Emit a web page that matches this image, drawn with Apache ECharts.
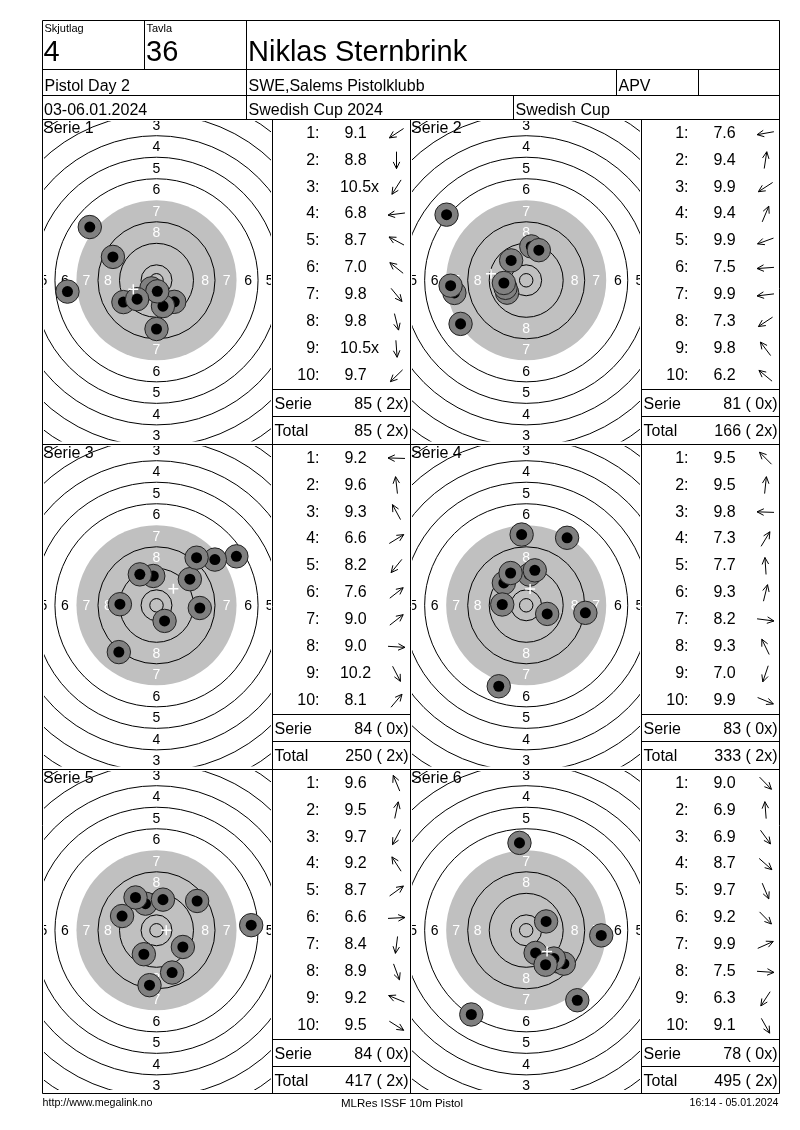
<!DOCTYPE html>
<html>
<head>
<meta charset="utf-8">
<script src="https://cdn.jsdelivr.net/npm/echarts@6/dist/echarts.min.js"></script>
<style>
html,body{margin:0;padding:0;background:#fff;}
#chart{width:800px;height:1130px;}
</style>
</head>
<body>
<div id="chart"></div>
<script>
// ---------------- DATA ----------------
const squadLabel = 'Skjutlag';
const squadNo = '4';
const laneLabel = 'Tavla';
const laneNo = '36';
const shooterName = 'Niklas Sternbrink';
const eventName = 'Pistol Day 2';
const clubName = 'SWE,Salems Pistolklubb';
const className = 'APV';
const dateText = '03-06.01.2024';
const competition = 'Swedish Cup 2024';
const cupName = 'Swedish Cup';
const footerLeft = 'http://www.megalink.no';
const footerMid = 'MLRes ISSF 10m Pistol';
const footerRight = '16:14 - 05.01.2024';

const serieNames = ['Serie 1', 'Serie 2', 'Serie 3', 'Serie 4', 'Serie 5', 'Serie 6'];

// shot scores per series ('x' = inner ten)
const scores1 = ['9.1', '8.8', '10.5x', '6.8', '8.7', '7.0', '9.8', '9.8', '10.5x', '9.7'];
const scores2 = ['7.6', '9.4', '9.9', '9.4', '9.9', '7.5', '9.9', '7.3', '9.8', '6.2'];
const scores3 = ['9.2', '9.6', '9.3', '6.6', '8.2', '7.6', '9.0', '9.0', '10.2', '8.1'];
const scores4 = ['9.5', '9.5', '9.8', '7.3', '7.7', '9.3', '8.2', '9.3', '7.0', '9.9'];
const scores5 = ['9.6', '9.5', '9.7', '9.2', '8.7', '6.6', '8.4', '8.9', '9.2', '9.5'];
const scores6 = ['9.0', '6.9', '6.9', '8.7', '9.7', '9.2', '9.9', '7.5', '6.3', '9.1'];

const serieSums = [85, 81, 84, 83, 84, 78];
const serieInner = [2, 0, 0, 0, 0, 0];
const totalSums = [85, 166, 250, 333, 417, 495];
const totalInner = [2, 2, 2, 2, 2, 2];

// shot positions in mm from target centre (x right, y up), in shot order
const shots1 = [[-12.3, -8.1], [0, -18.1], [-1.9, -3.0], [-33.1, -4.2], [-16.2, 8.7], [-24.8, 19.8], [6.6, -8.0], [2.4, -9.6], [0.3, -4.1], [-7.2, -7.0]];
const shots2 = [[-26.7, -4.7], [1.9, 12.6], [-7.1, -4.6], [4.7, 11.2], [-7.7, -2.8], [-28.1, -2.0], [-8.3, -1.0], [-24.4, -16.2], [-5.6, 7.4], [-29.6, 24.4]];
const shots3 = [[-13.6, 0.4], [-1.2, 10.9], [-6.2, 11.5], [29.7, 18.2], [-14.0, -17.4], [21.7, 17.0], [12.4, 9.7], [16.1, -1.0], [3.0, -5.8], [14.9, 17.7]];
const shots4 = [[-8.3, 8.3], [1.2, 11.4], [-8.9, 0.3], [15.2, 25.1], [-1.7, 26.3], [3.2, 13.0], [22.0, -2.8], [-5.8, 12.0], [-10.2, -30.1], [7.8, -3.2]];
const shots5 = [[-4.1, 9.9], [2.4, 11.4], [-4.7, -8.9], [-7.8, 12.2], [15.1, 10.9], [35.2, 1.9], [-2.6, -20.4], [5.8, -15.7], [-12.8, 5.3], [9.8, -6.2]];
const shots6 = [[11.2, -11.5], [-2.5, 32.5], [19.0, -26.0], [14.0, -12.4], [3.5, -8.4], [10.3, -10.5], [7.4, 3.3], [27.9, -1.9], [-20.4, -31.3], [7.2, -12.8]];

// ISSF 10m air pistol target geometry (mm): radius of ring 1..10, inner ten
const ringRadiusMm = [77.75, 69.75, 61.75, 53.75, 45.75, 37.75, 29.75, 21.75, 13.75, 5.75];
const innerTenMm = 2.5;
const ringLabels = [1, 2, 3, 4, 5, 6, 7, 8];
const shotRadiusMm = 4.35;
const shotCoreMm = 2.05;

// ---------------- LAYOUT ----------------
const S = 2.69; // px per mm
const FONT = '"Liberation Sans", Arial, Helvetica, sans-serif';
const panelLefts = [42.5, 410.5];
const panelRights = [272.5, 641.5];
const centersX = [156.5, 526.2];
const rowTops = [120, 445, 770];
const rowBottoms = [445, 770, 1093.5];
const centerOffY = 160.3;
const scoreLefts = [272.5, 641.5];
const scoreRights = [410.5, 779.5];

const allScores = [scores1, scores2, scores3, scores4, scores5, scores6];
const allShots = [shots1, shots2, shots3, shots4, shots5, shots6];

function txt(x, y, text, size, align, extra) {
  return Object.assign({
    type: 'text', x: x, y: y, z: 5, silent: true,
    style: {
      text: text, font: size + 'px ' + FONT, fill: '#000',
      textAlign: align || 'left', align: align || 'left',
      textVerticalAlign: 'middle', verticalAlign: 'middle'
    }
  }, extra || {});
}
function line(x1, y1, x2, y2) {
  return { type: 'line', z: 20, silent: true, shape: { x1: x1, y1: y1, x2: x2, y2: y2 }, style: { stroke: '#000', lineWidth: 1 } };
}

function ringRender(params, api) {
  const c = api.coord([0, 0]);
  const px = v => api.size([v, 0])[0];
  const ch = [];
  ch.push({ type: 'circle', shape: { cx: c[0], cy: c[1], r: px(ringRadiusMm[6]) }, style: { fill: '#c0c0c0', stroke: 'none' } });
  ringRadiusMm.forEach((r, i) => {
    if (i === 6) return;
    ch.push({ type: 'circle', shape: { cx: c[0], cy: c[1], r: px(r) }, style: { fill: 'none', stroke: '#000', lineWidth: 1 } });
  });
  ch.push({ type: 'circle', shape: { cx: c[0], cy: c[1], r: px(innerTenMm) }, style: { fill: 'none', stroke: '#000', lineWidth: 1 } });
  ringLabels.forEach(n => {
    const rr = px(ringRadiusMm[n - 1] - 4);
    const col = n >= 7 ? '#ffffff' : '#000000';
    [[0, -1], [0, 1], [-1, 0], [1, 0]].forEach(d => {
      ch.push({
        type: 'text', x: c[0] + d[0] * (rr + (d[0] ? 0.8 : 0)), y: c[1] + d[1] * rr + 0.8,
        style: { text: String(n), fill: col, font: '14px ' + FONT, textAlign: 'center', align: 'center', textVerticalAlign: 'middle', verticalAlign: 'middle' }
      });
    });
  });
  return { type: 'group', children: ch };
}

function shotRender(params, api) {
  const p = api.coord([api.value(0), api.value(1)]);
  const ro = api.size([shotRadiusMm, 0])[0];
  const ri = api.size([shotCoreMm, 0])[0];
  return {
    type: 'group', children: [
      { type: 'circle', shape: { cx: p[0], cy: p[1], r: ro }, style: { fill: '#808080', stroke: '#222', lineWidth: 1 } },
      { type: 'circle', shape: { cx: p[0], cy: p[1], r: ri }, style: { fill: '#000', stroke: 'none' } }
    ]
  };
}

function plusRender(params, api) {
  const p = api.coord([api.value(0), api.value(1)]);
  const h = 5;
  return {
    type: 'group', children: [
      { type: 'line', shape: { x1: p[0] - h, y1: p[1], x2: p[0] + h, y2: p[1] }, style: { stroke: '#fff', lineWidth: 1.5 } },
      { type: 'line', shape: { x1: p[0], y1: p[1] - h, x2: p[0], y2: p[1] + h }, style: { stroke: '#fff', lineWidth: 1.5 } }
    ]
  };
}

const grids = [], xAxes = [], yAxes = [], series = [], graphics = [];

for (let k = 0; k < 6; k++) {
  const row = k >> 1, col = k & 1;
  const cx = centersX[col], top = rowTops[row], bottom = rowBottoms[row];
  const cy = top + centerOffY;
  // drawing area of the target (slightly inside the cell borders)
  const L = panelLefts[col] + 1.5, R = panelRights[col] - 1.5;
  const T = top + 1, B = bottom - 3.5;
  grids.push({ left: L, top: T, width: R - L, height: B - T, outerBoundsMode: 'none', containLabel: false });
  xAxes.push({ type: 'value', gridIndex: k, min: (L - cx) / S, max: (R - cx) / S, show: false });
  yAxes.push({ type: 'value', gridIndex: k, min: -(B - cy) / S, max: (cy - T) / S, show: false });
  const shots = allShots[k];
  const mean = [shots.reduce((a, s) => a + s[0], 0) / shots.length, shots.reduce((a, s) => a + s[1], 0) / shots.length];
  series.push({ type: 'custom', xAxisIndex: k, yAxisIndex: k, data: [[0, 0]], renderItem: ringRender, clip: true, z: 2, silent: true });
  series.push({ type: 'custom', xAxisIndex: k, yAxisIndex: k, data: shots, renderItem: shotRender, clip: true, z: 3, silent: true });
  series.push({ type: 'custom', xAxisIndex: k, yAxisIndex: k, data: [mean], renderItem: plusRender, clip: true, z: 4, silent: true });

  // serie label in panel
  graphics.push(txt(panelLefts[col] + 0.5, top + 8.8, serieNames[k], 16, 'left', { z: 0 }));

  // score column
  const SL = scoreLefts[col], SR = scoreRights[col];
  const sc = allScores[k];
  for (let i = 0; i < 10; i++) {
    const y = top + 13.2 + 26.95 * i;
    graphics.push(txt(SL + 47, y, (i + 1) + ':', 16, 'right'));
    const v = sc[i];
    const isX = v.endsWith('x');
    const num = isX ? v.slice(0, -1) : v;
    const t = txt(SL + 83, y, isX ? '{h|x}{n|' + num + '}{v|x}' : num, 16, 'center');
    if (isX) t.style.rich = { h: { fill: 'rgba(0,0,0,0)' }, n: { fill: '#000' }, v: { fill: '#000' } };
    graphics.push(t);
    // direction arrow from shot position
    const sx = shots[i][0], sy = shots[i][1];
    const ang = Math.atan2(sy, sx);
    const ux = Math.cos(ang), uy = -Math.sin(ang);
    const ax = SL + 124, ay = y;
    const Lh = 8.5, Hd = 7.5, sp = 0.45;
    const tip = [ax + ux * Lh, ay + uy * Lh], tail = [ax - ux * Lh, ay - uy * Lh];
    const h1 = [tip[0] - Hd * (ux * Math.cos(sp) - uy * Math.sin(sp)), tip[1] - Hd * (ux * Math.sin(sp) + uy * Math.cos(sp))];
    const h2 = [tip[0] - Hd * (ux * Math.cos(-sp) - uy * Math.sin(-sp)), tip[1] - Hd * (ux * Math.sin(-sp) + uy * Math.cos(-sp))];
    graphics.push({ type: 'polyline', z: 5, silent: true, shape: { points: [tail, tip] }, style: { stroke: '#000', lineWidth: 1, fill: 'none' } });
    graphics.push({ type: 'polyline', z: 5, silent: true, shape: { points: [h1, tip, h2] }, style: { stroke: '#000', lineWidth: 1, fill: 'none' } });
  }
  graphics.push(line(SL, top + 269.5, SR, top + 269.5));
  graphics.push(line(SL, top + 296.5, SR, top + 296.5));
  graphics.push(txt(SL + 2, top + 284.2, 'Serie', 16, 'left'));
  graphics.push(txt(SR - 2, top + 284.2, serieSums[k] + ' ( ' + serieInner[k] + 'x)', 16, 'right'));
  graphics.push(txt(SL + 2, top + 311.2, 'Total', 16, 'left'));
  graphics.push(txt(SR - 2, top + 311.2, totalSums[k] + ' ( ' + totalInner[k] + 'x)', 16, 'right'));
}

// header texts
graphics.push(txt(44.5, 29, squadLabel, 11, 'left'));
graphics.push(txt(146.5, 29, laneLabel, 11, 'left'));
graphics.push(txt(43.5, 53.3, squadNo, 29, 'left'));
graphics.push(txt(146, 53.3, laneNo, 29, 'left'));
graphics.push(txt(248, 53.3, shooterName, 29, 'left'));
graphics.push(txt(44.5, 86.5, eventName, 16, 'left'));
graphics.push(txt(248.5, 86.5, clubName, 16, 'left'));
graphics.push(txt(618.5, 86.5, className, 16, 'left'));
graphics.push(txt(44, 111, dateText, 16, 'left'));
graphics.push(txt(248.5, 111, competition, 16, 'left'));
graphics.push(txt(515.5, 111, cupName, 16, 'left'));
// footer
graphics.push(txt(42.5, 1103.5, footerLeft, 10.7, 'left'));
graphics.push(txt(402, 1103.5, footerMid, 11.5, 'center'));
graphics.push(txt(778.5, 1103.5, footerRight, 10.6, 'right'));

// table borders
const XL = 42.5, XR = 779.5, YT = 20.5, YB = 1093.5;
graphics.push(line(XL, YT, XR, YT));
graphics.push(line(XL, YB, XR, YB));
graphics.push(line(XL, YT, XL, YB));
graphics.push(line(XR, YT, XR, YB));
graphics.push(line(XL, 69.5, XR, 69.5));
graphics.push(line(XL, 95.5, XR, 95.5));
graphics.push(line(XL, 119.5, XR, 119.5));
graphics.push(line(144.5, YT, 144.5, 69.5));
graphics.push(line(246.5, YT, 246.5, 119.5));
graphics.push(line(616.5, 69.5, 616.5, 95.5));
graphics.push(line(698.5, 69.5, 698.5, 95.5));
graphics.push(line(513.5, 95.5, 513.5, 119.5));
[272.5, 410.5, 641.5].forEach(x => graphics.push(line(x, 119.5, x, YB)));
graphics.push(line(XL, 444.5, XR, 444.5));
graphics.push(line(XL, 769.5, XR, 769.5));

const chart = echarts.init(document.getElementById('chart'), null, { renderer: 'canvas' });
chart.setOption({
  backgroundColor: '#ffffff',
  animation: false,
  grid: grids,
  xAxis: xAxes,
  yAxis: yAxes,
  series: series,
  graphic: { elements: graphics }
});
</script>
</body>
</html>
